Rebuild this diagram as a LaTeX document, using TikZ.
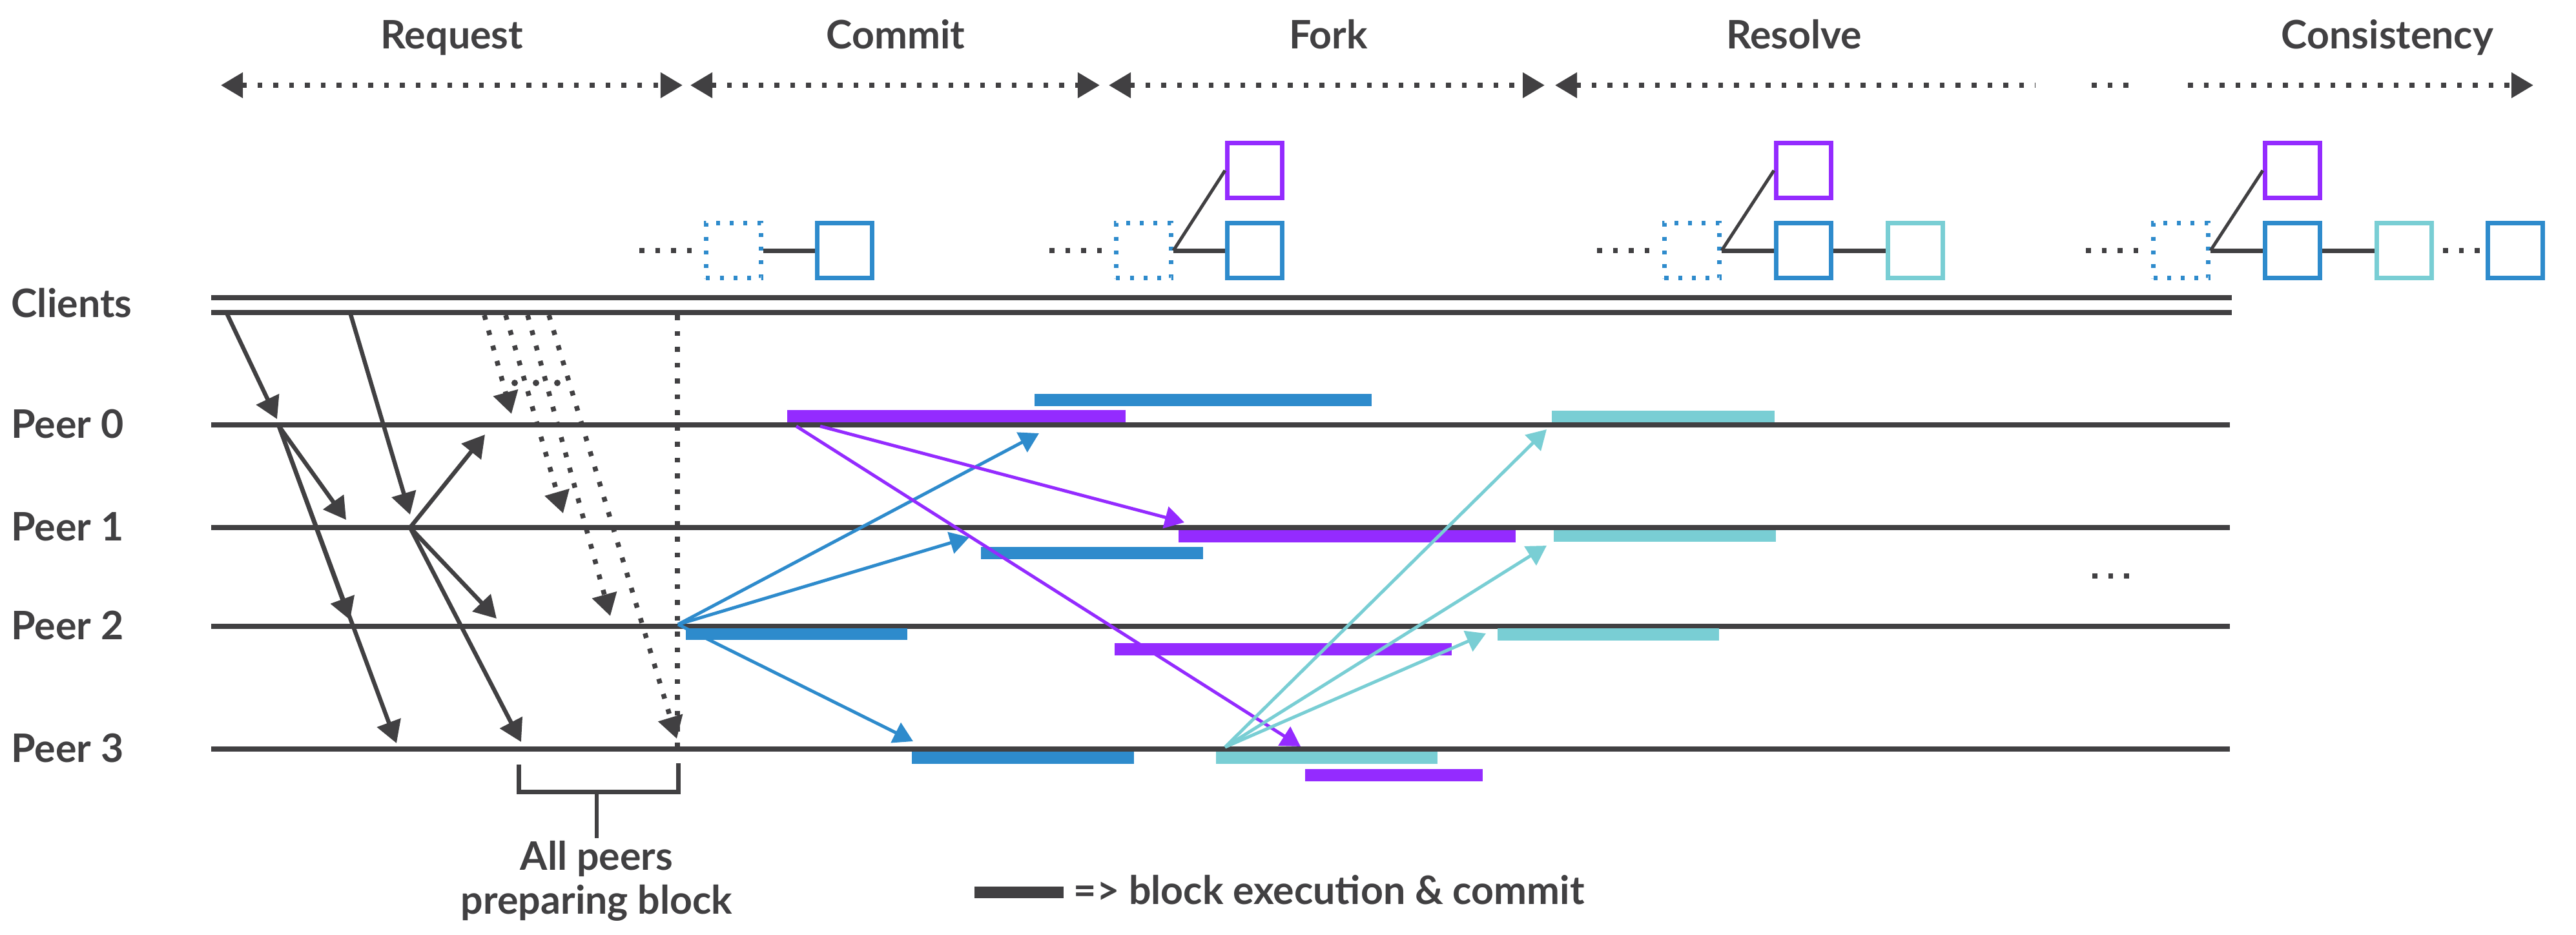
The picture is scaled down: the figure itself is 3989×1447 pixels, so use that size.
\documentclass[tikz,border=0pt]{standalone}
\usepackage{fontspec}
\setmainfont{Lato}
\usetikzlibrary{arrows.meta}
\definecolor{ink}{RGB}{65,64,66}
\definecolor{cblue}{RGB}{46,139,204}
\definecolor{cpurp}{RGB}{148,43,255}
\definecolor{ccyan}{RGB}{121,206,212}
\begin{document}
\begin{tikzpicture}[x=0.01cm,y=-0.01cm,
  lbl/.style={font=\fontsize{17.3pt}{20pt}\selectfont\bfseries, text=ink, inner sep=0pt},
  tline/.style={draw=ink, line width=0.08cm},
  dotl/.style={draw=ink, line width=0.075cm, dash pattern=on 0.075cm off 0.17cm},
  bigtip/.style={-{Triangle[length=0.34cm,width=0.38cm]}},
  hdrboth/.style={dotl, {Triangle[length=0.34cm,width=0.38cm]}-{Triangle[length=0.34cm,width=0.38cm]}},
  karrow/.style={draw=ink, line width=0.065cm, bigtip},
  dotarrow/.style={dotl, bigtip},
  carrow/.style={draw=#1, line width=0.05cm, -{Triangle[length=0.30cm,width=0.34cm]}},
  blk/.style={draw=#1, line width=0.07cm, minimum size=0.85cm, inner sep=0pt},
  dblk/.style={draw=cblue, line width=0.07cm, minimum size=0.85cm, inner sep=0pt, dash pattern=on 0.06cm off 0.1525cm},
  link/.style={draw=ink, line width=0.07cm},
  forklink/.style={draw=ink, line width=0.05cm},
  bracket/.style={draw=ink, line width=0.07cm},
  dotc/.style={fill=ink, circle, minimum size=0.1cm, inner sep=0pt}
]
\useasboundingbox (0,0) rectangle (3989,1447);

% ---------------- header ----------------
\node[lbl, anchor=base] (hReq) at (700,75) {Request};
\node[lbl, anchor=base] (hCom) at (1387,75) {Commit};
\node[lbl, anchor=base] (hFork) at (2057,75) {Fork};
\node[lbl, anchor=base] (hRes) at (2778,75) {Resolve};
\node[lbl, anchor=base] (hCon) at (3697,75) {Consistency};

\coordinate (rqA) at (342,132);  \coordinate (rqB) at (1057,132);
\coordinate (cmA) at (1069,132); \coordinate (cmB) at (1703,132);
\coordinate (fkA) at (1717,132); \coordinate (fkB) at (2392,132);
\coordinate (rsA) at (2408,132); \coordinate (rsB) at (3152,132);
\coordinate (elA) at (3239,132); \coordinate (elB) at (3297,132);
\coordinate (csA) at (3388,132); \coordinate (csB) at (3923,132);
\draw[hdrboth] (rqA) -- (rqB);
\draw[hdrboth] (cmA) -- (cmB);
\draw[hdrboth] (fkA) -- (fkB);
\draw[dotl, {Triangle[length=0.34cm,width=0.38cm]}-] (rsA) -- (rsB);
\draw[dotl] (elA) -- (elB);
\draw[dotl, bigtip] (csA) -- (csB);

% ---------------- chain of blocks ----------------
% group 1
\coordinate (g1s) at (990,388); \coordinate (g1e) at (1073,388);
\node[dblk] (d1) at (1136,388) {};
\node[blk=cblue] (b1) at (1308,388) {};
\draw[dotl] (g1s) -- (g1e);
\draw[link] (d1.east) -- (b1.west);
% group 2
\coordinate (g2s) at (1625,388); \coordinate (g2e) at (1708,388);
\node[dblk] (d2) at (1771,388) {};
\node[blk=cblue] (b2) at (1943,388) {};
\node[blk=cpurp] (p2) at (1943,264) {};
\draw[dotl] (g2s) -- (g2e);
\draw[link] (d2.east) -- (b2.west);
\draw[forklink] (d2.east) -- (p2.west);
% group 3
\coordinate (g3s) at (2473,388); \coordinate (g3e) at (2556,388);
\node[dblk] (d3) at (2620,388) {};
\node[blk=cblue] (b3) at (2793,388) {};
\node[blk=cpurp] (p3) at (2793,264) {};
\node[blk=ccyan] (c3) at (2966,388) {};
\draw[dotl] (g3s) -- (g3e);
\draw[link] (d3.east) -- (b3.west);
\draw[link] (b3.east) -- (c3.west);
\draw[forklink] (d3.east) -- (p3.west);
% group 4
\coordinate (g4s) at (3230,388); \coordinate (g4e) at (3313,388);
\node[dblk] (d4) at (3377,388) {};
\node[blk=cblue] (b4) at (3550,388) {};
\node[blk=cpurp] (p4) at (3550,264) {};
\node[blk=ccyan] (c4) at (3723,388) {};
\node[blk=cblue] (b5) at (3895,388) {};
\coordinate (g5s) at (3783,388); \coordinate (g5e) at (3840,388);
\draw[dotl] (g4s) -- (g4e);
\draw[link] (d4.east) -- (b4.west);
\draw[link] (b4.east) -- (c4.west);
\draw[forklink] (d4.east) -- (p4.west);
\draw[dotl] (g5s) -- (g5e);

% ---------------- timelines ----------------
\coordinate (clAL) at (327,461);  \coordinate (clAR) at (3456,461);
\coordinate (clBL) at (327,484);  \coordinate (clBR) at (3456,484);
\coordinate (p0L) at (327,658);   \coordinate (p0R) at (3453,658);
\coordinate (p1L) at (327,817);   \coordinate (p1R) at (3453,817);
\coordinate (p2L) at (327,970);   \coordinate (p2R) at (3453,970);
\coordinate (p3L) at (327,1160);  \coordinate (p3R) at (3453,1160);
\draw[tline] (clAL) -- (clAR);
\draw[tline] (clBL) -- (clBR);
\draw[tline] (p0L) -- (p0R);
\draw[tline] (p1L) -- (p1R);
\draw[tline] (p2L) -- (p2R);
\draw[tline] (p3L) -- (p3R);

\node[lbl, anchor=base west] (lCl) at (17,491) {Clients};
\node[lbl, anchor=base west] (lP0) at (17,678) {Peer 0};
\node[lbl, anchor=base west] (lP1) at (17,837) {Peer 1};
\node[lbl, anchor=base west] (lP2) at (17,990) {Peer 2};
\node[lbl, anchor=base west] (lP3) at (17,1180) {Peer 3};

\coordinate (elC) at (3240,892); \coordinate (elD) at (3298,892);
\draw[dotl] (elC) -- (elD);

% ---------------- execution bars ----------------
\fill[cpurp] (1219,635) rectangle (1743,654);
\fill[cblue] (1602,610) rectangle (2124,629);
\fill[ccyan] (2403,636) rectangle (2748,654);
\fill[cpurp] (1825,821) rectangle (2347,840);
\fill[cblue] (1519,847) rectangle (1863,866);
\fill[ccyan] (2406,821) rectangle (2750,839);
\fill[cblue] (1062,973) rectangle (1405,991);
\fill[cpurp] (1726,996) rectangle (2248,1015);
\fill[ccyan] (2319,973) rectangle (2662,992);
\fill[cblue] (1412,1164) rectangle (1756,1183);
\fill[ccyan] (1883,1164) rectangle (2226,1183);
\fill[cpurp] (2021,1191) rectangle (2296,1210);

% ---------------- request phase (black) ----------------
\coordinate (c1) at (352,487);  \coordinate (c1t) at (429,649);
\coordinate (c2) at (543,487);  \coordinate (c2t) at (635,797);
\coordinate (o0) at (432,660);
\coordinate (o0a) at (536,805); \coordinate (o0b) at (542,960); \coordinate (o0c) at (614,1151);
\coordinate (o1) at (635,817);
\coordinate (o1a) at (751,673); \coordinate (o1b) at (769,958); \coordinate (o1c) at (807,1149);
\draw[karrow] (c1) -- (c1t);
\draw[karrow] (c2) -- (c2t);
\draw[karrow] (o0) -- (o0a);
\draw[karrow] (o0) -- (o0b);
\draw[karrow] (o0) -- (o0c);
\draw[karrow] (o1) -- (o1a);
\draw[karrow] (o1) -- (o1b);
\draw[karrow] (o1) -- (o1c);

\coordinate (dA) at (750,488);  \coordinate (dAt) at (792,641);
\coordinate (dB) at (783,488);  \coordinate (dBt) at (872,795);
\coordinate (dC) at (817,488);  \coordinate (dCt) at (945,954);
\coordinate (dD) at (850,488);  \coordinate (dDt) at (1048,1144);
\coordinate (vT) at (1049,488); \coordinate (vB) at (1049,1160);
\draw[dotarrow] (dA) -- (dAt);
\draw[dotarrow] (dB) -- (dBt);
\draw[dotarrow] (dC) -- (dCt);
\draw[dotl] (vT) -- (vB);
\draw[dotarrow] (dD) -- (dDt);
\node[dotc] (e1) at (797,593) {};
\node[dotc] (e2) at (830,593) {};
\node[dotc] (e3) at (863,593) {};

% ---------------- commit / fork / resolve arrows ----------------
\coordinate (bo) at (1050,967);
\coordinate (bt0) at (1609,671); \coordinate (bt1) at (1501,832); \coordinate (bt3) at (1414,1148);
\draw[carrow=cblue] (bo) -- (bt0);
\draw[carrow=cblue] (bo) -- (bt1);
\draw[carrow=cblue] (bo) -- (bt3);

\coordinate (po1) at (1233,660); \coordinate (po2) at (1270,660);
\coordinate (pt3) at (2014,1156); \coordinate (pt1) at (1834,809);
\draw[carrow=cpurp] (po1) -- (pt3);
\draw[carrow=cpurp] (po2) -- (pt1);

\coordinate (co) at (1897,1157);
\coordinate (ct0) at (2395,665); \coordinate (ct1) at (2395,845); \coordinate (ct2) at (2301,981);
\draw[carrow=ccyan] (co) -- (ct0);
\draw[carrow=ccyan] (co) -- (ct1);
\draw[carrow=ccyan] (co) -- (ct2);

% ---------------- bracket & legend ----------------
\coordinate (brL) at (803,1184); \coordinate (brLb) at (803,1226);
\coordinate (brR) at (1050,1182); \coordinate (brRb) at (1050,1226);
\coordinate (brM) at (924,1226);  \coordinate (brS) at (924,1298);
\draw[bracket] (brL) -- (brLb) -- (brRb) -- (brR);
\draw[draw=ink, line width=0.06cm] (brM) -- (brS);
\node[lbl, anchor=base] (tAll) at (924,1347) {All peers};
\node[lbl, anchor=base] (tPrep) at (924,1415) {preparing block};

\fill[ink] (1509,1373) rectangle (1647,1391);
\node[lbl, anchor=base west] (tLeg) at (1662,1400) {=> block execution \& commit};
\end{tikzpicture}
\end{document}
